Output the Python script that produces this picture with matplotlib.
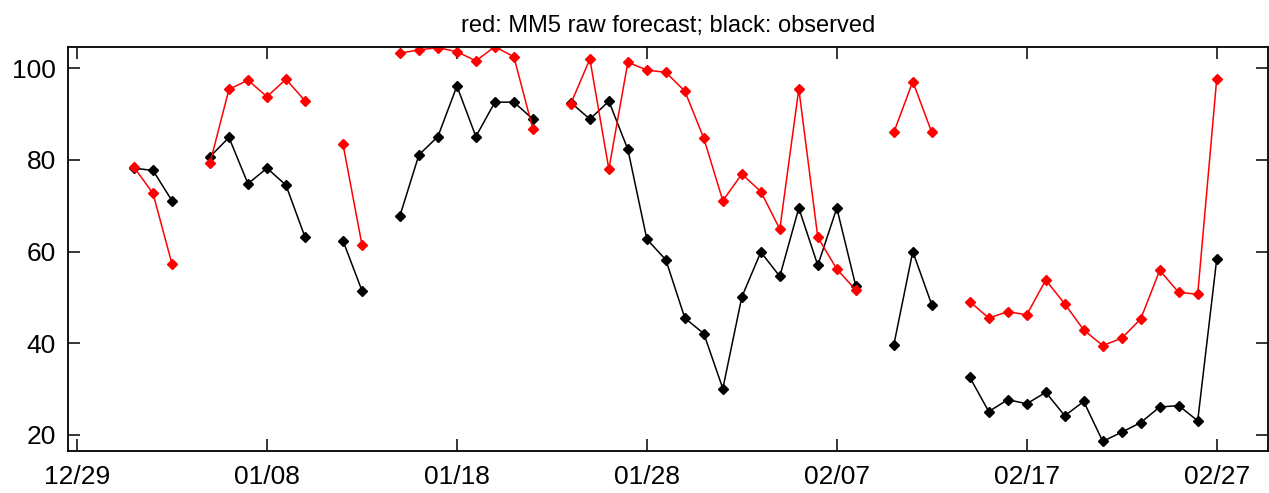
import matplotlib
matplotlib.use("Agg")
import matplotlib.pyplot as plt
import numpy as np

# days counted from 12/29; nan marks a missing day (breaks the line)
days = np.arange(3, 61)

observed = [
    78.2, 77.7, 71.1, np.nan,
    80.7, 84.9, 74.8, 78.2, 74.5, 63.2, np.nan,
    62.4, 51.5, np.nan,
    67.8, 81.1, 85.1, 96.1, 85.1, 92.6, 92.6, 88.9, np.nan,
    92.5, 88.9, 92.8, 82.3, 62.7, 58.2, 45.5, 42.1, 30.1, 50.1, 59.9, 54.6,
    69.5, 57.0, 69.5, 52.5, np.nan,
    39.6, 60.0, 48.4, np.nan,
    32.6, 25.1, 27.7, 26.8, 29.3, 24.2, 27.3, 18.6, 20.6, 22.7, 26.1, 26.4,
    23.1, 58.3,
]

mm5_raw = [
    78.4, 72.7, 57.3, np.nan,
    79.3, 95.4, 97.4, 93.8, 97.6, 92.9, np.nan,
    83.5, 61.5, np.nan,
    103.3, 104.0, 104.5, 103.6, 101.6, 104.7, 102.5, 86.7, np.nan,
    92.3, 102.0, 78.0, 101.3, 99.6, 99.1, 95.0, 84.7, 71.1, 76.9, 73.1, 64.9,
    95.5, 63.1, 56.2, 51.6, np.nan,
    86.0, 97.1, 86.0, np.nan,
    49.1, 45.5, 46.9, 46.2, 53.8, 48.6, 42.9, 39.5, 41.1, 45.3, 55.9, 51.1,
    50.7, 97.6,
]

tick_days = [0, 10, 20, 30, 40, 50, 60]
tick_labels = ["12/29", "01/08", "01/18", "01/28", "02/07", "02/17", "02/27"]
y_ticks = [20, 40, 60, 80, 100]

plt.rcParams["font.family"] = ["Liberation Sans", "DejaVu Sans"]

fig = plt.figure(figsize=(12.69, 4.93), dpi=100)
ax = fig.add_axes([0.0538, 0.0852, 0.9454, 0.8201])

ax.plot(days, observed, color="black", lw=1.1, marker="D", ms=5.5)
ax.plot(days, mm5_raw, color="#ff0000", lw=1.1, marker="D", ms=5.5)

ax.set_xlim(-0.46, 62.7)
ax.set_ylim(16.5, 104.7)
ax.set_xticks(tick_days)
ax.set_xticklabels(tick_labels)
ax.set_yticks(y_ticks)
ax.tick_params(direction="in", length=8.6, width=1.1, top=True, right=True,
               labelsize=19)
ax.tick_params(axis="x", pad=10)
ax.tick_params(axis="y", pad=9)
for sp in ax.spines.values():
    sp.set_linewidth(1.3)

ax.set_title("red: MM5 raw forecast; black: observed", fontsize=17, pad=10.5)

fig.savefig("out.png", dpi=100)
